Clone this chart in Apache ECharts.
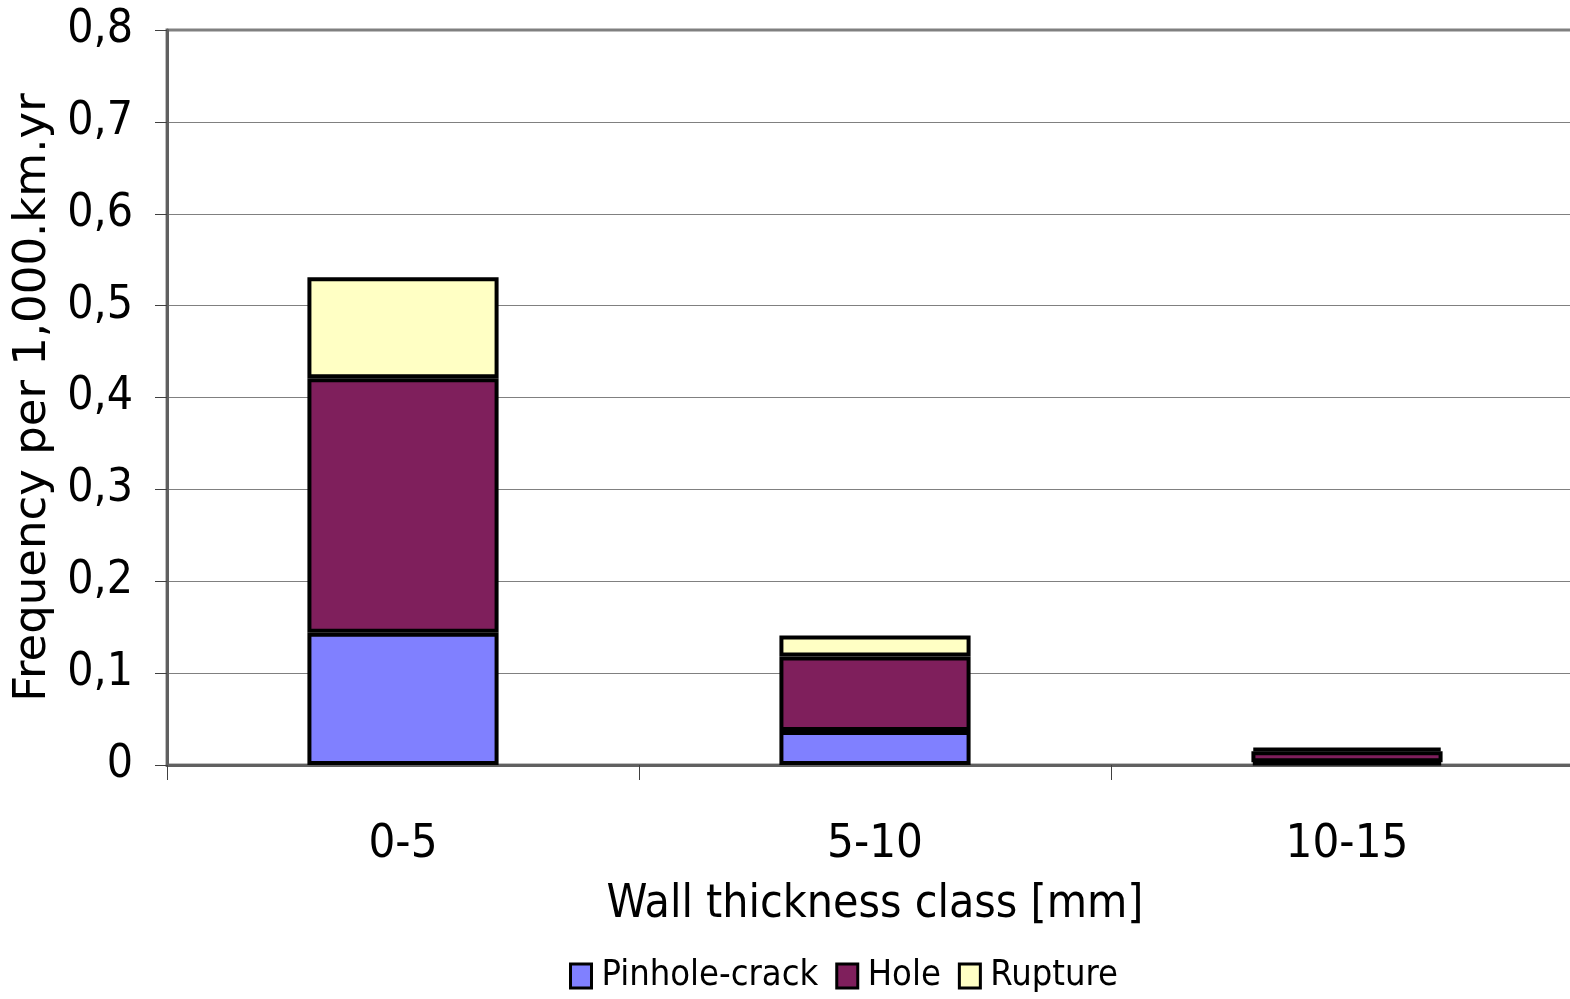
<!DOCTYPE html>
<html>
<head>
<meta charset="utf-8">
<title>Frequency by wall thickness class</title>
<script src="https://cdn.jsdelivr.net/npm/echarts@6/dist/echarts.min.js"></script>
<style>
  html, body { margin: 0; padding: 0; background: #ffffff; }
  #chart { width: 1570px; height: 999px; }
</style>
</head>
<body>
<div id="chart"></div>
<script>
// Wall thickness classes [mm]
const categories = ['0-5', '5-10', '10-15'];

// Incident frequency per 1,000 km·yr, stacked by hole size
const pinholeCrack = [0.144, 0.037, 0.003];
const hole = [0.277, 0.081, 0.012];
const rupture = [0.110, 0.023, 0.004];

const seriesNames = ['Pinhole-crack', 'Hole', 'Rupture'];
const seriesColors = ['#8080ff', '#7f1f5c', '#ffffc4'];

const yMin = 0;
const yMax = 0.8;
const yStep = 0.1;

const labelFont = '"DejaVu Sans Condensed", "DejaVu Sans", sans-serif';

const chart = echarts.init(document.getElementById('chart'), null, { renderer: 'canvas' });

function bar(name, data, color) {
  return {
    name: name,
    type: 'bar',
    stack: 'total',
    data: data,
    barWidth: '40.5%',
    itemStyle: { color: color, borderColor: '#000000', borderWidth: 4 },
    emphasis: { disabled: true }
  };
}

chart.setOption({
  animation: false,
  backgroundColor: '#ffffff',
  grid: {
    left: 167, top: 30, right: -13, bottom: 234,
    containLabel: false,
    outerBoundsMode: 'none',
    show: true, borderColor: '#808080', borderWidth: 3, backgroundColor: 'transparent'
  },
  legend: {
    data: seriesNames,
    bottom: 0,
    left: 564,
    itemWidth: 21,
    itemHeight: 24,
    itemGap: 17,
    icon: 'rect',
    selectedMode: false,
    textStyle: { fontFamily: labelFont, fontSize: 36, color: '#000000', padding: [0, 0, 0, 5] },
    itemStyle: { borderColor: '#000000', borderWidth: 3 }
  },
  xAxis: {
    type: 'category',
    data: categories,
    boundaryGap: true,
    name: 'Wall thickness class [mm]',
    nameLocation: 'middle',
    nameGap: 117,
    nameTextStyle: { fontFamily: labelFont, fontSize: 46, color: '#000000' },
    axisLine: { show: true, lineStyle: { color: '#606060', width: 3 } },
    axisTick: { show: true, alignWithLabel: false, length: 15, lineStyle: { color: '#404040', width: 1 } },
    axisLabel: { fontFamily: labelFont, fontSize: 47, color: '#000000', margin: 56 },
    splitLine: { show: false }
  },
  yAxis: {
    type: 'value',
    min: yMin,
    max: yMax,
    interval: yStep,
    name: 'Frequency per 1,000.km.yr',
    nameLocation: 'middle',
    nameGap: 99,
    nameTextStyle: { fontFamily: '"DejaVu Sans", sans-serif', fontSize: 45, color: '#000000' },
    axisLine: { show: true, lineStyle: { color: '#606060', width: 3 } },
    axisTick: { show: true, length: 12, lineStyle: { color: '#404040', width: 1 } },
    axisLabel: {
      fontFamily: labelFont, fontSize: 46, color: '#000000', margin: 34,
      formatter: function (v) { return v === 0 ? '0' : v.toFixed(1).replace('.', ','); }
    },
    splitLine: { show: true, lineStyle: { color: '#808080', width: 1 } }
  },
  series: [
    bar(seriesNames[0], pinholeCrack, seriesColors[0]),
    bar(seriesNames[1], hole, seriesColors[1]),
    bar(seriesNames[2], rupture, seriesColors[2])
  ]
});
</script>
</body>
</html>
